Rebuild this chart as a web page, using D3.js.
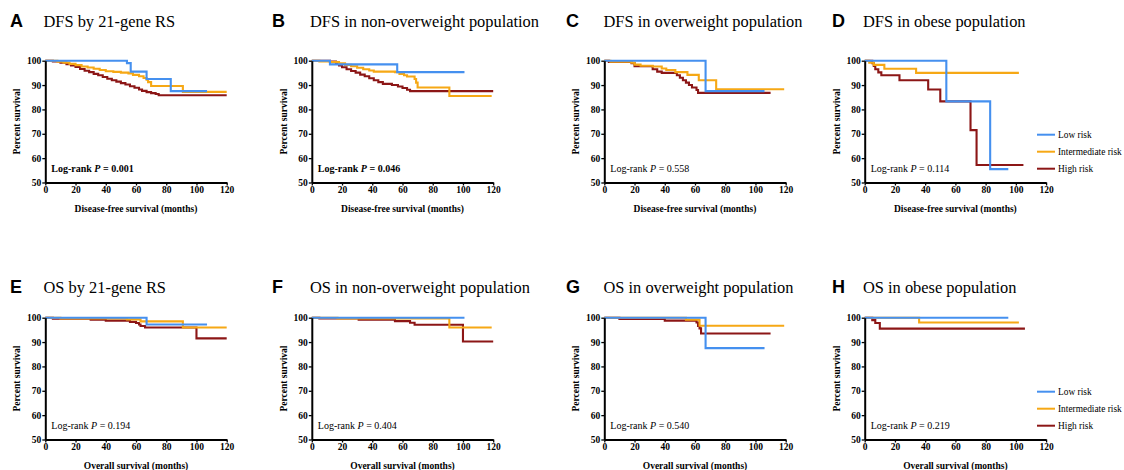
<!DOCTYPE html>
<html><head><meta charset="utf-8">
<script src="https://cdn.jsdelivr.net/npm/d3@7/dist/d3.min.js"></script>
<style>html,body{margin:0;padding:0;background:#fff;}svg{display:block;}</style>
</head><body>
<svg id="chart" width="1124" height="470"></svg>
<script>
// ---------- data ----------
const groups = ["Low risk", "Intermediate risk", "High risk"];
const groupColors = ["#4590ef", "#f6a815", "#8c1616"];
const xTicks = [0, 20, 40, 60, 80, 100, 120];
const yTicks = [50, 60, 70, 80, 90, 100];
const panelLetters = ["A", "B", "C", "D", "E", "F", "G", "H"];
const panelTitles = ["DFS by 21-gene RS", "DFS in non-overweight population", "DFS in overweight population", "DFS in obese population",
                     "OS by 21-gene RS", "OS in non-overweight population", "OS in overweight population", "OS in obese population"];
const xTitles = ["Disease-free survival (months)", "Overall survival (months)"];
const yTitle = "Percent survival";
const pValues = ["0.001", "0.046", "0.558", "0.114", "0.194", "0.404", "0.540", "0.219"];
const pBold = [true, true, false, false, false, false, false, false];
const legendPanels = ["D", "H"];

// DFS panels  [months, percent]
const dfsAllLow  = [[0,100],[54,99],[56.5,95.5],[67,92.5],[83,87.5],[107,87.5]];
const dfsAllInt  = [[0,100],[8,99.6],[12,99.2],[16,98.7],[20,98.2],[24,97.6],[28,97.2],[32,96.7],[36,96.2],[40,95.7],[45,95.4],[50,95.1],[55,94.8],[58,94.2],[62,93.6],[65,92.9],[67,92.2],[68,91.2],[70,89.6],[91,87.2],[120,87.2]];
const dfsAllHigh = [[0,100],[5,99.7],[10,99.2],[14,98.6],[17,98],[20,97.4],[23,96.6],[26,95.9],[29,95.3],[32,94.6],[35,94],[38,93.3],[41,92.6],[44,92],[47,91.4],[50,90.8],[53,90.2],[56,89.5],[59,88.9],[62,88.2],[64,87.6],[67,87.1],[70,86.7],[73,86.3],[75,85.8],[120,85.8]];

const dfsNonLow  = [[0,100],[12,98.5],[56.5,95.3],[101,95.3]];
const dfsNonInt  = [[0,100],[5,99.7],[12,99.4],[18,98.9],[22,98.3],[26,97.7],[30,97.1],[34,96.5],[38,96],[41,95.5],[55,95.3],[58,94.6],[61,94],[63,93.5],[68,92.5],[69,91],[70,89],[91,85.5],[119,85.5]];
const dfsNonHigh = [[0,100],[12,99.6],[16,98.8],[18,98],[20,97.3],[23,96.5],[26,95.8],[29,95.1],[32,94.3],[35,93.6],[38,92.8],[41,92],[44,91.2],[47,90.5],[53,90],[57,89.4],[60,88.8],[63,88.1],[65,87.5],[120,87.5]];

const dfsOverLow  = [[0,100],[67,87.5],[106,87.5]];
const dfsOverInt  = [[0,100],[4,99.6],[18,99.2],[20,98.4],[24,97.9],[32,97.6],[38,96.8],[41,96.2],[47,95.3],[55,94.2],[62.5,92],[74,88.3],[119,88.3]];
const dfsOverHigh = [[0,100],[3,99.5],[18,99],[20,97.7],[32,96.5],[35,95.5],[38,95],[48,94],[50,93],[52,92],[54,91],[56,90],[58,89],[61,88],[62,86.8],[110,86.8]];

const dfsObLow  = [[0,100],[54,83.3],[83,55.5],[95,55.5]];
const dfsObInt  = [[0,100],[3,99.2],[6,98.3],[13,96.7],[34,95],[102,95]];
const dfsObHigh = [[0,100],[5,99],[6,97.8],[7,96.5],[9,95.2],[11,94],[23,92],[42,88.2],[50,83.3],[70,71.5],[74,57.2],[105,57.2]];

// OS panels
const osAllLow  = [[0,100],[67,97.2],[107,97.2]];
const osAllInt  = [[0,100],[10,99.7],[54,99.3],[63,98.5],[91,96],[120,96]];
const osAllHigh = [[0,100],[5,99.6],[30,99.2],[40,98.8],[56,98.3],[60,97.8],[62,97.2],[63,96.6],[66,96],[100,91.5],[120,91.5]];

const osNonLow  = [[0,100],[101,100]];
const osNonInt  = [[0,100],[17,99.7],[91,96],[119,96]];
const osNonHigh = [[0,100],[5,99.7],[31,99.2],[55,98.6],[65,97.9],[68,97.1],[100,90.2],[120,90.2]];

const osOverLow  = [[0,100],[67,87.5],[106,87.5]];
const osOverInt  = [[0,100],[54,99.2],[63,96.7],[119,96.7]];
const osOverHigh = [[0,100],[10,99.5],[40,98.8],[61,98],[62,96.6],[63,95.6],[64,93.5],[110,93.5]];

const osObLow  = [[0,100],[95,100]];
const osObInt  = [[0,100],[36,98],[102,98]];
const osObHigh = [[0,100],[5,99],[7,97.8],[10,95.5],[106,95.5]];

const panelSeries = [
  [dfsAllLow, dfsAllInt, dfsAllHigh], [dfsNonLow, dfsNonInt, dfsNonHigh],
  [dfsOverLow, dfsOverInt, dfsOverHigh], [dfsObLow, dfsObInt, dfsObHigh],
  [osAllLow, osAllInt, osAllHigh], [osNonLow, osNonInt, osNonHigh],
  [osOverLow, osOverInt, osOverHigh], [osObLow, osObInt, osObHigh]
];

// ---------- layout ----------
const plotX = [45.3, 311.8, 604.3, 864.7];
const plotW = 181.4;
const plotY = [60.7, 317.7];
const plotH = 121.8;
const letterX = [10, 272, 566, 832];
const titleX = [43.5, 310, 603.5, 863];
const titleY = [27, 293];

const serif = "'Liberation Serif','Times New Roman',serif";
const sans = "'Liberation Sans',Arial,sans-serif";

const svg = d3.select("#chart");
const line = d3.line().curve(d3.curveStepAfter);

panelLetters.forEach((letter, i) => {
  const col = i % 4, row = Math.floor(i / 4);
  const x0 = plotX[col], y0 = plotY[row];
  const x = d3.scaleLinear().domain([0, 120]).range([x0, x0 + plotW]);
  const y = d3.scaleLinear().domain([50, 100]).range([y0 + plotH, y0]);

  // panel letter + title
  svg.append("text").attr("x", letterX[col]).attr("y", titleY[row])
    .attr("font-family", sans).attr("font-weight", "bold").attr("font-size", 18)
    .text(letter);
  svg.append("text").attr("x", titleX[col]).attr("y", titleY[row])
    .attr("font-family", serif).attr("font-size", 16.4)
    .text(panelTitles[i]);

  // curves (high, intermediate, low so that low is on top)
  const ord = [2, 1, 0];
  ord.forEach(g => {
    const pts = panelSeries[i][g].map(d => [x(d[0]), y(d[1])]);
    svg.append("path").attr("d", line(pts)).attr("fill", "none")
      .attr("stroke", groupColors[g]).attr("stroke-width", 2.1);
  });

  // axes
  const xAxis = d3.axisBottom(x).tickValues(xTicks).tickSize(3).tickPadding(1).tickSizeOuter(0);
  const yAxis = d3.axisLeft(y).tickValues(yTicks).tickSize(3).tickPadding(1).tickSizeOuter(0);
  const gx = svg.append("g").attr("transform", `translate(0,${y0 + plotH})`).call(xAxis);
  const gy = svg.append("g").attr("transform", `translate(${x0},0)`).call(yAxis);
  [gx, gy].forEach(g => {
    g.select(".domain").attr("stroke", "#000").attr("stroke-width", 2);
    g.selectAll(".tick line").attr("stroke", "#000").attr("stroke-width", 1.3);
    g.selectAll(".tick text").attr("font-family", serif).attr("font-weight", "bold")
      .attr("font-size", 9.5).attr("fill", "#000");
  });

  // axis titles
  svg.append("text").attr("x", x0 + plotW / 2).attr("y", y0 + plotH + 29)
    .attr("text-anchor", "middle").attr("font-family", serif).attr("font-weight", "bold")
    .attr("font-size", 9.5).text(xTitles[row]);
  svg.append("text").attr("transform", `translate(${x0 - 25},${y0 + plotH / 2}) rotate(-90)`)
    .attr("text-anchor", "middle").attr("font-family", serif).attr("font-weight", "bold")
    .attr("font-size", 9.5).text(yTitle);

  // log-rank annotation
  const t = svg.append("text").attr("x", x0 + 6).attr("y", y0 + 111)
    .attr("font-family", serif).attr("font-size", 10)
    .attr("font-weight", pBold[i] ? "bold" : "normal");
  t.append("tspan").text("Log-rank ");
  t.append("tspan").attr("font-style", "italic").text("P");
  t.append("tspan").text(" = " + pValues[i]);

  // legend
  if (legendPanels.includes(letter)) {
    groups.forEach((name, g) => {
      const ly = y0 + 74 + g * 17;
      svg.append("line").attr("x1", 1037).attr("x2", 1055).attr("y1", ly).attr("y2", ly)
        .attr("stroke", groupColors[g]).attr("stroke-width", 2);
      svg.append("text").attr("x", 1058).attr("y", ly + 3.5)
        .attr("font-family", serif).attr("font-size", 9.4).text(name);
    });
  }
});
</script>
</body></html>
